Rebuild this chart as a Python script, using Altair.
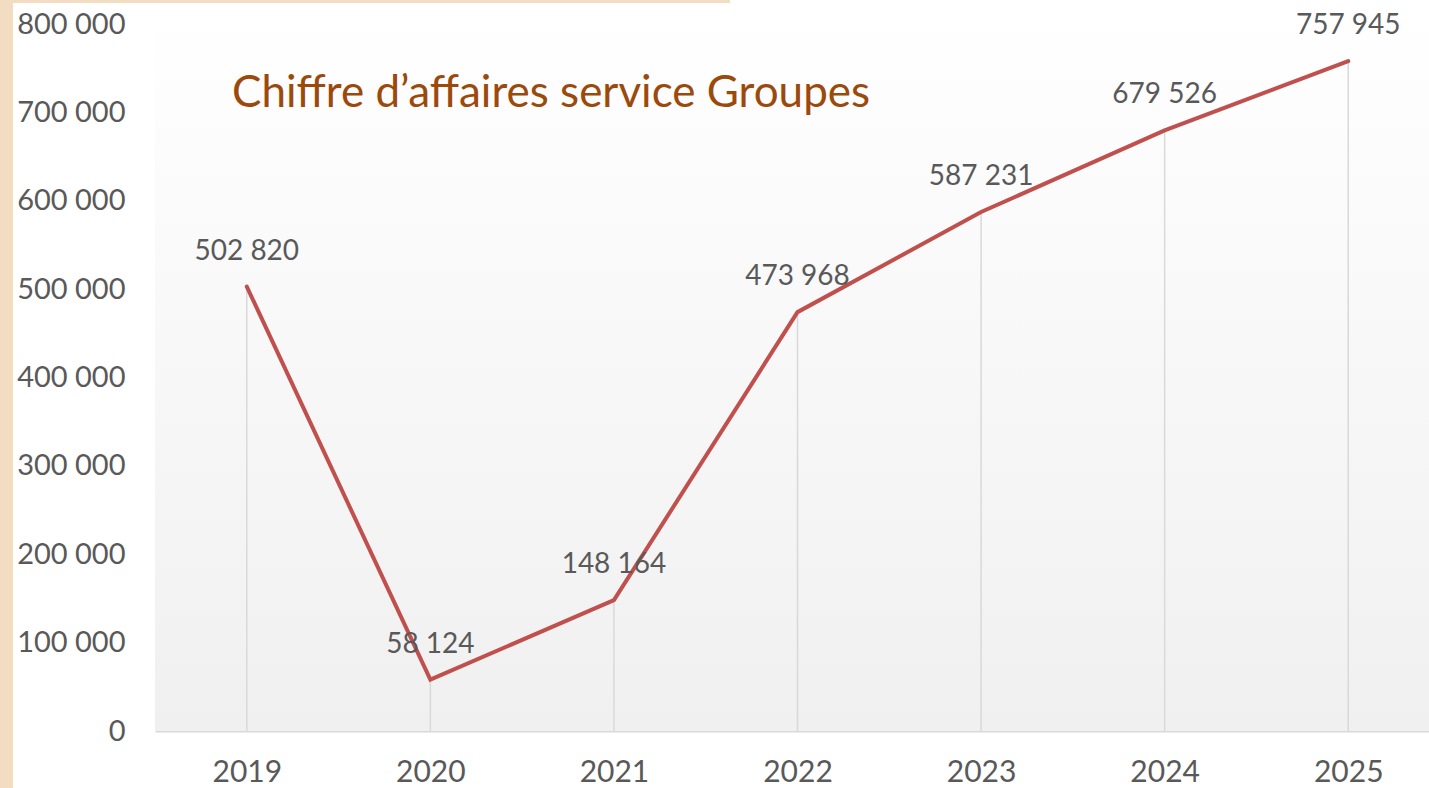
import altair as alt
import pandas as pd

years = [2019, 2020, 2021, 2022, 2023, 2024, 2025]
values = [502820, 58124, 148164, 473968, 587231, 679526, 757945]
y_ticks = [0, 100000, 200000, 300000, 400000, 500000, 600000, 700000, 800000]
title_text = "Chiffre d\u2019affaires service Groupes"

df = pd.DataFrame({"year": years, "value": values})
df["label"] = [f"{v:,}".replace(",", " ") for v in values]

W, H = 1274, 707
FONT = "Lato"
GREY = "#595959"

x_scale = alt.Scale(domain=[2018.5, 2025.5], range=[0, W * 7 / 6.94], nice=False, zero=False)
y_scale = alt.Scale(domain=[0, 800000], nice=False)

bg = alt.Chart(df).mark_rect(
    color=alt.Gradient(gradient="linear", x1=0, y1=0, x2=0, y2=1,
                       stops=[alt.GradientStop(color="#ffffff", offset=0),
                              alt.GradientStop(color="#f0f0f0", offset=1)])
).encode(x=alt.value(0), x2=alt.value(W + 20), y=alt.value(-24), y2=alt.value(H))

strip_left = alt.Chart(df).mark_rect(color="#f2dcc2").encode(
    x=alt.value(-155), x2=alt.value(-142), y=alt.value(-24), y2=alt.value(H + 60))
strip_top = alt.Chart(df).mark_rect(color="#f2dcc2").encode(
    x=alt.value(-155), x2=alt.value(575), y=alt.value(-24), y2=alt.value(-21))

base = alt.Chart(df)

drops = base.mark_rule(color="#d9d9d9", strokeWidth=1.5).encode(
    x=alt.X("year:Q", scale=x_scale,
            axis=alt.Axis(values=years, format="d", title=None, grid=False, ticks=False,
                          domain=True, domainColor="#d9d9d9", domainWidth=2,
                          labelFont=FONT, labelFontSize=30, labelColor=GREY, labelPadding=26)),
    y=alt.Y("value:Q", scale=y_scale,
            axis=alt.Axis(values=y_ticks, title=None, grid=False, ticks=False, domain=False,
                          labelFont=FONT, labelFontSize=29, labelColor=GREY, labelPadding=30,
                          labelExpr="replace(format(datum.value, ','), ',', ' ')")),
    y2=alt.datum(0),
)

line = base.mark_line(color="#c0504d", strokeWidth=4, strokeCap="round").encode(
    x=alt.X("year:Q", scale=x_scale), y=alt.Y("value:Q", scale=y_scale))

labels = base.mark_text(font=FONT, fontSize=28, color=GREY, dy=-35, baseline="middle").encode(
    x=alt.X("year:Q", scale=x_scale), y=alt.Y("value:Q", scale=y_scale), text="label:N")

title = alt.Chart(pd.DataFrame({"t": [title_text]})).mark_text(
    font=FONT, fontSize=44, color="#9c4a0c", align="left", baseline="middle"
).encode(x=alt.value(77), y=alt.value(70), text="t:N")

chart = alt.layer(bg, strip_left, strip_top, drops, line, labels, title).properties(
    width=W, height=H,
    autosize=alt.AutoSizeParams(type="none"),
    padding={"left": 155, "top": 24, "right": 0, "bottom": 57},
    background="#ffffff",
).configure_view(stroke=None)

chart.save("out.html", embed_options={"renderer": "svg", "actions": False})
